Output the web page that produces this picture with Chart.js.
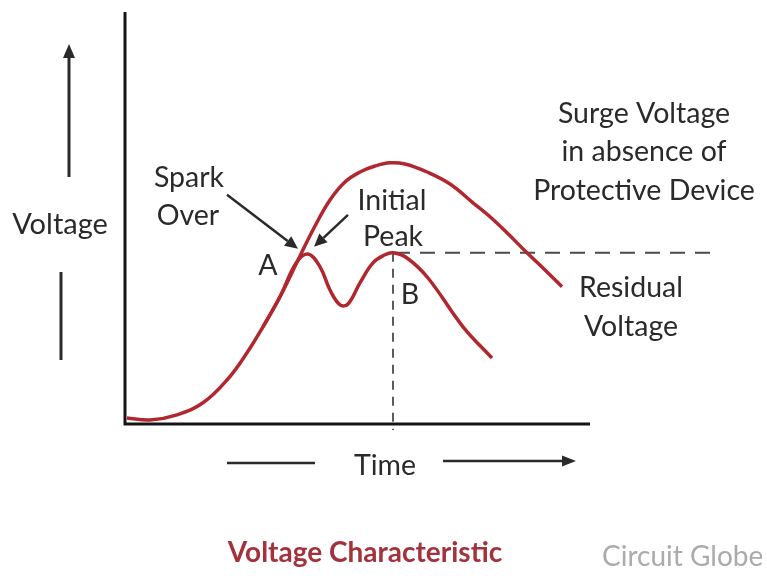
<!DOCTYPE html>
<html>
<head>
<meta charset="utf-8">
<script src="https://cdn.jsdelivr.net/npm/chart.js@4.4.1/dist/chart.umd.min.js"></script>
<style>
  html, body { margin: 0; padding: 0; background: #fff; }
  #wrap { width: 767px; height: 580px; }
</style>
</head>
<body>
<div id="wrap"><canvas id="chart" width="767" height="580"></canvas></div>
<script>
// surge without protection (time, voltage) - arbitrary units
const surgeTime    = [0.04, 0.5, 1.04, 1.56, 2.04, 2.44, 2.76, 3.1, 3.5, 3.8, 4.1, 4.4, 4.7, 5.0, 5.3, 5.6, 6.04, 6.5, 6.96, 7.3, 7.64, 8.04, 8.4, 8.74];
const surgeVoltage = [0.15, 0.1, 0.23, 0.53, 1.1, 1.78, 2.43, 3.18, 4.2, 4.95, 5.6, 6.05, 6.3, 6.45, 6.53, 6.5, 6.3, 6.0, 5.53, 5.18, 4.78, 4.28, 3.85, 3.43];

// with the protective device: spark over at A, then the residual voltage
const residualTime    = [2.76, 3.1, 3.42, 3.66, 3.9, 4.1, 4.3, 4.46, 4.7, 4.96, 5.2, 5.36, 5.64, 6.06, 6.76, 7.34];
const residualVoltage = [2.43, 3.18, 4.02, 4.25, 3.93, 3.35, 2.98, 3.0, 3.53, 4.03, 4.23, 4.28, 4.15, 3.65, 2.43, 1.65];

const axisTimeMax = 9.3;
const axisVoltageMax = 10.3;
const dashEndTime = 11.76;

const toPoints = (xs, ys) => xs.map((t, i) => ({ x: t, y: ys[i] }));

// residual peak (point B) drives both dashed guides
const peakIdx = residualVoltage.indexOf(Math.max(...residualVoltage.slice(8)));
const peakT = residualTime[peakIdx];
const peakV = residualVoltage[peakIdx];

const FONT = 'Lato, "Open Sans", sans-serif';
const RED = '#b0272e';
const INK = '#2a2a2a';
const SIZE = 28.5;

function arrow(ctx, x1, y1, x2, y2, len, half) {
  const a = Math.atan2(y2 - y1, x2 - x1);
  const bx = x2 - len * Math.cos(a), by = y2 - len * Math.sin(a);
  ctx.beginPath();
  ctx.moveTo(x1, y1);
  ctx.lineTo(bx, by);
  ctx.stroke();
  ctx.beginPath();
  ctx.moveTo(x2, y2);
  ctx.lineTo(bx + half * Math.sin(a), by - half * Math.cos(a));
  ctx.lineTo(bx - half * Math.sin(a), by + half * Math.cos(a));
  ctx.closePath();
  ctx.fill();
}

function label(ctx, text, x, y, size, align) {
  ctx.font = size + 'px ' + FONT;
  ctx.textAlign = align || 'center';
  ctx.fillText(text, x, y);
}

const axesPlugin = {
  id: 'axes',
  beforeDatasetsDraw(chart) {
    const { ctx, scales: { x, y } } = chart;
    ctx.save();
    ctx.strokeStyle = '#151515';
    ctx.lineWidth = 3;
    ctx.lineCap = 'butt';
    ctx.beginPath();
    ctx.moveTo(x.getPixelForValue(0), y.getPixelForValue(axisVoltageMax));
    ctx.lineTo(x.getPixelForValue(0), y.getPixelForValue(0) + 1.5);
    ctx.moveTo(x.getPixelForValue(0) - 1.5, y.getPixelForValue(0));
    ctx.lineTo(x.getPixelForValue(axisTimeMax), y.getPixelForValue(0));
    ctx.stroke();
    ctx.restore();
  }
};

const notesPlugin = {
  id: 'notes',
  afterDraw(chart) {
    const { ctx, scales: { x, y } } = chart;
    const px = t => x.getPixelForValue(t);
    const py = v => y.getPixelForValue(v);
    ctx.save();
    ctx.fillStyle = INK;
    ctx.strokeStyle = INK;
    ctx.textBaseline = 'alphabetic';

    // voltage axis: arrow up, label, bar below
    ctx.lineWidth = 3;
    arrow(ctx, 69, 177, 69, 44, 14, 6);
    ctx.beginPath();
    ctx.moveTo(61, 272);
    ctx.lineTo(61, 360);
    ctx.stroke();
    label(ctx, 'Voltage', 60, 234, SIZE + 0.5);

    // time axis
    ctx.lineWidth = 2.5;
    ctx.beginPath();
    ctx.moveTo(227, 463);
    ctx.lineTo(315, 463);
    ctx.stroke();
    arrow(ctx, 443, 461, 576, 461, 14, 5.5);
    label(ctx, 'Time', 385, 475, SIZE);

    // annotations inside the plot
    label(ctx, 'Spark', px(1.28), py(5.93), SIZE);
    label(ctx, 'Over', px(1.26), py(4.98), SIZE);
    label(ctx, 'Initial', px(5.34), py(5.35), SIZE);
    label(ctx, 'Peak', px(5.36), py(4.45), SIZE);
    label(ctx, 'A', px(2.86), py(3.73), SIZE);
    label(ctx, 'B', px(5.7), py(3.0), SIZE);
    ctx.lineWidth = 2.5;
    arrow(ctx, px(2.04), py(5.73), px(3.46), py(4.38), 13, 6);
    arrow(ctx, px(4.46), py(5.23), px(3.78), py(4.43), 13, 6);

    label(ctx, 'Surge Voltage', px(10.38), py(7.53), SIZE);
    label(ctx, 'in absence of', px(10.38), py(6.58), SIZE);
    label(ctx, 'Protective Device', px(10.38), py(5.6), SIZE);
    label(ctx, 'Residual', px(10.12), py(3.18), SIZE);
    label(ctx, 'Voltage', px(10.12), py(2.2), SIZE);

    // caption and credit
    ctx.fillStyle = '#a3323c';
    ctx.font = 'bold 28px ' + FONT;
    ctx.textAlign = 'center';
    ctx.fillText('Voltage Characteristic', 365, 562);
    ctx.fillStyle = '#ababab';
    label(ctx, 'Circuit Globe', 602, 566, 28, 'left');
    ctx.restore();
  }
};

new Chart(document.getElementById('chart'), {
  type: 'scatter',
  data: {
    datasets: [
      {
        label: 'Surge voltage',
        data: toPoints(surgeTime, surgeVoltage),
        showLine: true,
        borderColor: RED,
        borderWidth: 3.5,
        tension: 0.4,
        pointRadius: 0
      },
      {
        label: 'Residual voltage',
        data: toPoints(residualTime, residualVoltage),
        showLine: true,
        borderColor: RED,
        borderWidth: 3.5,
        tension: 0.4,
        pointRadius: 0
      },
      {
        label: 'Peak level',
        data: [{ x: peakT + 0.04, y: peakV }, { x: dashEndTime, y: peakV }],
        showLine: true,
        borderColor: '#4a4a4a',
        borderWidth: 2,
        borderDash: [15, 10],
        pointRadius: 0,
        clip: false
      },
      {
        label: 'Peak time',
        data: [{ x: peakT, y: peakV }, { x: peakT, y: -0.15 }],
        showLine: true,
        borderColor: '#4a4a4a',
        borderWidth: 1.8,
        borderDash: [9, 7],
        pointRadius: 0,
        clip: false
      }
    ]
  },
  options: {
    responsive: false,
    animation: false,
    devicePixelRatio: 1,
    layout: { padding: { left: 125, right: 12, top: 12, bottom: 156 } },
    plugins: {
      legend: { display: false },
      tooltip: { enabled: false }
    },
    scales: {
      x: { type: 'linear', min: 0, max: 12.6, display: false },
      y: { type: 'linear', min: 0, max: 10.3, display: false }
    }
  },
  plugins: [axesPlugin, notesPlugin]
});
</script>
</body>
</html>
